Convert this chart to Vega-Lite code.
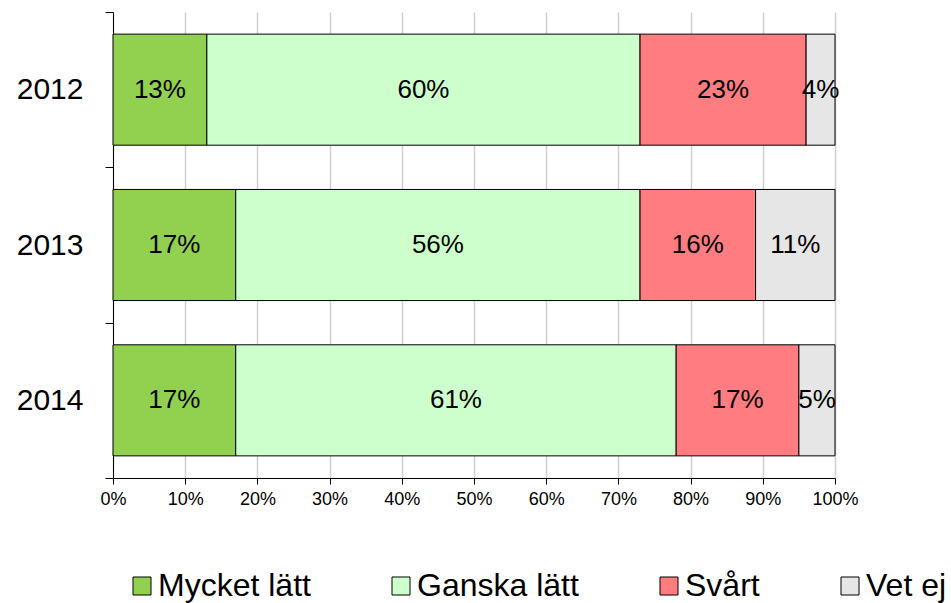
{
  "$schema": "https://vega.github.io/schema/vega-lite/v6.json",
  "autosize": {"type": "none"},
  "width": 722,
  "height": 466,
  "padding": {"left": 113, "top": 12, "right": 116, "bottom": 125},
  "background": "white",
  "config": {"view": {"stroke": null}, "font": "Liberation Sans"},
  "data": {"values": [
    {"year": "2012", "cat": "Mycket lätt", "ord": 1, "v": 0.13},
    {"year": "2012", "cat": "Ganska lätt", "ord": 2, "v": 0.60},
    {"year": "2012", "cat": "Svårt", "ord": 3, "v": 0.23},
    {"year": "2012", "cat": "Vet ej", "ord": 4, "v": 0.04},
    {"year": "2013", "cat": "Mycket lätt", "ord": 1, "v": 0.17},
    {"year": "2013", "cat": "Ganska lätt", "ord": 2, "v": 0.56},
    {"year": "2013", "cat": "Svårt", "ord": 3, "v": 0.16},
    {"year": "2013", "cat": "Vet ej", "ord": 4, "v": 0.11},
    {"year": "2014", "cat": "Mycket lätt", "ord": 1, "v": 0.17},
    {"year": "2014", "cat": "Ganska lätt", "ord": 2, "v": 0.61},
    {"year": "2014", "cat": "Svårt", "ord": 3, "v": 0.17},
    {"year": "2014", "cat": "Vet ej", "ord": 4, "v": 0.05}
  ]},
  "transform": [
    {"stack": "v", "groupby": ["year"], "sort": [{"field": "ord", "order": "ascending"}], "as": ["x0", "x1"]},
    {"calculate": "(datum.x0 + datum.x1) / 2", "as": "xm"}
  ],
  "encoding": {
    "y": {
      "field": "year", "type": "nominal", "sort": ["2012", "2013", "2014"],
      "scale": {"paddingInner": 0, "paddingOuter": 0},
      "axis": {
        "title": null, "labelFontSize": 30, "labelColor": "black", "labelPadding": 22,
        "tickBand": "extent", "tickSize": 8, "tickColor": "black", "domainColor": "black",
        "domainWidth": 1, "tickWidth": 1, "grid": false
      }
    }
  },
  "layer": [
    {
      "mark": {"type": "bar", "stroke": "black", "strokeWidth": 1, "height": {"band": 0.715}},
      "encoding": {
        "x": {
          "field": "x0", "type": "quantitative",
          "scale": {"domain": [0, 1], "nice": false},
          "axis": {
            "title": null, "format": "%", "values": [0, 0.1, 0.2, 0.3, 0.4, 0.5, 0.6, 0.7, 0.8, 0.9, 1],
            "labelFontSize": 18, "labelColor": "black", "labelPadding": 6,
            "tickSize": 6, "tickColor": "black", "domainColor": "black",
            "grid": true, "gridColor": "#d0d0d0", "gridWidth": 1.5,
            "labelFlush": false
          }
        },
        "x2": {"field": "x1"},
        "color": {
          "field": "cat", "type": "nominal",
          "sort": ["Mycket lätt", "Ganska lätt", "Svårt", "Vet ej"],
          "scale": {
            "domain": ["Mycket lätt", "Ganska lätt", "Svårt", "Vet ej"],
            "range": ["#92d050", "#ccffcc", "#ff7c80", "#e6e6e6"]
          },
          "legend": {
            "title": null, "orient": "none", "legendX": 13, "legendY": 558,
            "direction": "horizontal", "columnPadding": 74,
            "symbolType": "square", "symbolSize": 324, "symbolStrokeColor": "black",
            "symbolStrokeWidth": 1, "symbolOpacity": 1,
            "labelFont": "Liberation Sans", "labelFontSize": 32, "labelColor": "black",
            "labelLimit": 0, "labelOffset": 0
          }
        }
      }
    },
    {
      "mark": {"type": "text", "fontSize": 26, "color": "black"},
      "encoding": {
        "x": {"field": "xm", "type": "quantitative"},
        "text": {"field": "v", "type": "quantitative", "format": ".0%"}
      }
    }
  ]
}
